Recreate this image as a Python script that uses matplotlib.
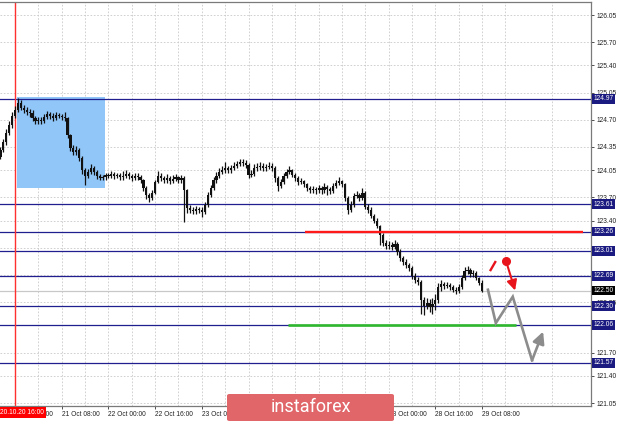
import matplotlib
matplotlib.use("Agg")
import matplotlib.pyplot as plt
from matplotlib.patches import Rectangle, FancyBboxPatch
import numpy as np

# ---------------- data (H1 candles, bar index 0 = 20.10.20 16:00) ----------------
first_bar = -5
first_open = 124.22
closes = [
    124.31, 124.41, 124.53, 124.63, 124.75,
    124.83, 124.92, 124.85, 124.83, 124.80, 124.79, 124.72, 124.68, 124.70, 124.68,
    124.74, 124.77, 124.75, 124.72, 124.76, 124.75, 124.74, 124.72, 124.50, 124.34,
    124.28, 124.31, 124.21, 124.05, 123.98, 124.03, 124.08, 124.03, 123.98, 123.95,
    123.96, 123.99, 123.98, 124.00, 123.98, 123.99, 123.96, 123.98, 124.00, 123.98,
    123.95, 123.98, 123.96, 123.92, 123.82, 123.73, 123.69, 123.76, 123.90, 123.98,
    123.95, 123.92, 123.95, 123.91, 123.94, 123.96, 123.92, 123.95, 123.79, 123.56,
    123.54, 123.52, 123.55, 123.54, 123.51, 123.60, 123.73, 123.82, 123.92, 123.98,
    124.03, 124.05, 124.08, 124.05, 124.08, 124.10, 124.13, 124.16, 124.14, 124.12,
    123.99, 124.00, 124.08, 124.09, 124.10, 124.08, 124.09, 124.10, 124.08, 123.95,
    123.85, 123.90, 123.98, 124.03, 124.05, 123.99, 123.95, 123.90, 123.91, 123.87,
    123.82, 123.79, 123.81, 123.79, 123.82, 123.79, 123.83, 123.81, 123.78, 123.85,
    123.89, 123.91, 123.87, 123.69, 123.54, 123.60, 123.72, 123.73, 123.69, 123.76,
    123.58, 123.54, 123.46, 123.40, 123.33, 123.22, 123.11, 123.07, 123.09, 123.06,
    123.10, 123.00, 122.92, 122.87, 122.83, 122.79, 122.69, 122.64, 122.61, 122.38,
    122.30, 122.34, 122.29, 122.33, 122.38, 122.54, 122.58, 122.56, 122.57, 122.54,
    122.51, 122.49, 122.54, 122.66, 122.75, 122.76, 122.71, 122.73, 122.66, 122.60,
    122.50,
]
highs = [
    124.35, 124.45, 124.58, 124.68, 124.80,
    124.88, 124.98, 124.95, 124.89, 124.86, 124.84, 124.82, 124.75, 124.74, 124.73,
    124.78, 124.81, 124.80, 124.79, 124.80, 124.79, 124.78, 124.80, 124.74, 124.52,
    124.38, 124.36, 124.34, 124.23, 124.08, 124.07, 124.13, 124.10, 124.05, 124.00,
    123.99, 124.02, 124.01, 124.04, 124.03, 124.02, 124.01, 124.04, 124.05, 124.03,
    124.00, 124.02, 124.01, 123.99, 123.94, 123.85, 123.76, 123.80, 123.93, 124.04,
    124.01, 123.98, 124.00, 123.98, 123.99, 124.00, 123.98, 123.99, 123.97, 123.81,
    123.60, 123.58, 123.59, 123.58, 123.57, 123.64, 123.77, 123.86, 123.96, 124.03,
    124.08, 124.10, 124.16, 124.11, 124.12, 124.15, 124.17, 124.20, 124.20, 124.18,
    124.14, 124.05, 124.13, 124.14, 124.15, 124.14, 124.13, 124.15, 124.14, 124.10,
    123.98, 123.94, 124.02, 124.07, 124.10, 124.07, 124.01, 123.97, 123.95, 123.93,
    123.89, 123.85, 123.85, 123.84, 123.86, 123.85, 123.88, 123.86, 123.84, 123.89,
    123.93, 123.96, 123.93, 123.89, 123.72, 123.65, 123.76, 123.78, 123.76, 123.82,
    123.78, 123.61, 123.57, 123.49, 123.43, 123.35, 123.24, 123.15, 123.14, 123.13,
    123.15, 123.12, 123.03, 122.95, 122.90, 122.86, 122.81, 122.72, 122.67, 122.63,
    122.42, 122.40, 122.39, 122.40, 122.45, 122.60, 122.63, 122.61, 122.61, 122.60,
    122.57, 122.55, 122.59, 122.70, 122.80, 122.81, 122.79, 122.77, 122.75, 122.68,
    122.63,
]
lows = [
    124.19, 124.28, 124.38, 124.50, 124.60,
    124.72, 124.80, 124.82, 124.79, 124.76, 124.74, 124.69, 124.65, 124.65, 124.65,
    124.66, 124.71, 124.71, 124.69, 124.70, 124.72, 124.70, 124.68, 124.46, 124.30,
    124.24, 124.25, 124.17, 124.00, 123.86, 123.95, 124.00, 123.99, 123.94, 123.92,
    123.92, 123.93, 123.95, 123.95, 123.94, 123.95, 123.93, 123.93, 123.95, 123.94,
    123.91, 123.92, 123.92, 123.88, 123.78, 123.68, 123.64, 123.66, 123.74, 123.88,
    123.91, 123.88, 123.89, 123.87, 123.88, 123.91, 123.88, 123.89, 123.38, 123.50,
    123.50, 123.48, 123.49, 123.50, 123.45, 123.48, 123.58, 123.70, 123.80, 123.89,
    123.95, 124.00, 124.02, 124.01, 124.02, 124.05, 124.08, 124.10, 124.10, 124.08,
    123.95, 123.96, 123.97, 124.04, 124.05, 124.04, 124.04, 124.06, 124.04, 123.90,
    123.78, 123.82, 123.87, 123.95, 124.00, 123.96, 123.91, 123.86, 123.87, 123.83,
    123.78, 123.76, 123.76, 123.75, 123.76, 123.75, 123.76, 123.73, 123.74, 123.76,
    123.82, 123.86, 123.83, 123.65, 123.48, 123.51, 123.57, 123.69, 123.65, 123.66,
    123.55, 123.50, 123.43, 123.37, 123.30, 123.08, 123.07, 123.03, 123.04, 123.02,
    123.03, 122.96, 122.88, 122.83, 122.79, 122.75, 122.65, 122.60, 122.57, 122.20,
    122.18, 122.26, 122.22, 122.20, 122.25, 122.34, 122.50, 122.52, 122.53, 122.51,
    122.48, 122.46, 122.47, 122.52, 122.63, 122.71, 122.68, 122.68, 122.63, 122.57,
    122.48,
]

# x axis labels (every 16 bars)
date_ticks = [0, 16, 32, 48, 64, 80, 96, 112, 128, 144, 160]
date_labels = ["20 Oct 16:00", "21 Oct 08:00", "22 Oct 00:00", "22 Oct 16:00",
               "23 Oct 08:00", "26 Oct 00:00", "26 Oct 16:00", "27 Oct 08:00",
               "28 Oct 00:00", "28 Oct 16:00", "29 Oct 08:00"]
cursor_label = "20.10.20 16:00"

# price scale labels (those fully covered by level boxes are left blank)
price_ticks = [126.05, 125.70, 125.40, 125.05, 124.70, 124.35, 124.05, 123.70,
               123.40, 123.05, 122.70, 122.35, 122.05, 121.70, 121.40, 121.05]
price_tick_labels = ["126.05", "125.70", "125.40", "125.05", "124.70", "124.35",
                     "124.05", "123.70", "123.40", "", "", "122.35",
                     "", "121.70", "121.40", "121.05"]

# horizontal levels
levels = [124.97, 123.61, 123.26, 123.01, 122.69, 122.30, 122.06, 121.57]
current_price = 122.50

# drawings
box_x = [0.7, 30.8]
box_y = [123.82, 124.99]
red_level = 123.26
red_seg = [99.3, 194.5]
green_level = 122.06
green_seg = [93.5, 171.6]
gray_path_x = [162.0, 164.7, 170.5, 177.1]
gray_path_y = [122.51, 122.08, 122.42, 121.60]
gray_arrow_end = (180.9, 121.97)
red_tick_x = [162.7, 164.7]
red_tick_y = [122.75, 122.88]
red_dot = (168.2, 122.88)
red_arrow_end = (171.3, 122.50)

# ---------------- figure ----------------
W, H = 620, 423
fig = plt.figure(figsize=(W / 100, H / 100), dpi=100)
fig.patch.set_facecolor("white")
ax = fig.add_axes([0, (H - 405.5) / H, 591 / W, 403.5 / H])
ax.set_xlim(-5.14, 197.3)
ax.set_ylim(121.018, 126.218)

tick_font = dict(family="Liberation Sans", size=4.8)

# grid / ticks
ax.set_yticks(price_ticks)
ax.set_yticklabels(price_tick_labels, fontdict=tick_font)
ax.yaxis.tick_right()
ax.set_xticks(date_ticks)
ax.set_xticklabels(date_labels, fontdict=tick_font, ha="left")
ax.set_xticks(np.arange(8, 200, 16), minor=True)
ax.tick_params(axis="y", direction="out", length=2.5, width=0.6, pad=1.5,
               colors="#333333", labelcolor="#222222")
ax.tick_params(axis="x", which="major", direction="out", length=2.5, width=0.6,
               pad=1.5, colors="#333333", labelcolor="#222222")
ax.tick_params(axis="x", which="minor", length=0)
ax.grid(True, which="both", color="#c9c9c9", linestyle=(0, (2, 2)), linewidth=0.6)
ax.set_axisbelow(True)

ax.spines["left"].set_visible(False)
for side in ["top", "right", "bottom"]:
    ax.spines[side].set_color("#7a7a7a")
    ax.spines[side].set_linewidth(0.9)

# blue rectangle
ax.add_patch(Rectangle((box_x[0], box_y[0]), box_x[1] - box_x[0], box_y[1] - box_y[0],
                       facecolor="#90c6f8", edgecolor="none", zorder=1))

# levels
navy = "#1f1f8f"
for lv in levels:
    ax.axhline(lv, color=navy, linewidth=0.9, zorder=2)
ax.axhline(current_price, color="#c8c8c8", linewidth=0.9, zorder=2)

# red vertical cursor line
ax.axvline(0, color="#ff3030", linewidth=1.0, zorder=2)

# candles
n = len(closes)
xs = np.arange(first_bar, first_bar + n)
opens = [first_open] + closes[:-1]
ax.vlines(xs, lows, highs, color="#111111", linewidth=0.9, zorder=3)
body_h = np.array(closes) - np.array(opens)
ax.bar(xs, body_h, bottom=opens, width=0.75, color="#111111", edgecolor="none", zorder=3)

# red & green thick lines
ax.plot(red_seg, [red_level, red_level], color="#ff1a1a", linewidth=1.7, zorder=4,
        solid_capstyle="butt")
ax.plot(green_seg, [green_level, green_level], color="#2eb82e", linewidth=1.9, zorder=4,
        solid_capstyle="butt")

# gray forecast path
ax.plot(gray_path_x, gray_path_y, color="#8c8c8c", linewidth=1.9, zorder=5,
        solid_joinstyle="miter")
ax.annotate("", xy=gray_arrow_end, xytext=(gray_path_x[-1], gray_path_y[-1]),
            arrowprops=dict(arrowstyle="-|>,head_length=0.7,head_width=0.35",
                            color="#8c8c8c", lw=1.9, shrinkA=0, shrinkB=0), zorder=5)

# red forecast mark
ax.plot(red_tick_x, red_tick_y, color="#e8141c", linewidth=1.7, zorder=6,
        solid_capstyle="butt")
ax.plot([red_dot[0]], [red_dot[1]], "o", color="#e8141c", markersize=5.5, zorder=6)
ax.annotate("", xy=red_arrow_end, xytext=red_dot,
            arrowprops=dict(arrowstyle="-|>,head_length=0.6,head_width=0.3",
                            color="#e8141c", lw=1.5, shrinkA=0, shrinkB=0), zorder=6)

# price boxes on the scale
def price_box(val, fc):
    ax.annotate(f"{val:.2f}", xy=(1.0, val), xycoords=("axes fraction", "data"),
                xytext=(1.5, 0), textcoords="offset points", ha="left", va="center",
                color="white", fontsize=4.8, family="Liberation Sans",
                bbox=dict(boxstyle="square,pad=0.22", fc=fc, ec="none"),
                annotation_clip=False, zorder=10)

for lv in levels:
    price_box(lv, "#1a1a80")
price_box(current_price, "#000000")

# cursor date label
ax.annotate(cursor_label, xy=(0, 0), xycoords="axes fraction", xytext=(0.3, -2.2),
            textcoords="offset points", ha="left", va="top", color="white",
            fontsize=4.8, family="Liberation Sans",
            bbox=dict(boxstyle="square,pad=0.3", fc="#ff0000", ec="none"),
            annotation_clip=False, zorder=10)

# watermark
wm = FancyBboxPatch((227 / W, (H - 421) / H), 167 / W, 27 / H,
                    boxstyle="round,pad=0,rounding_size=0.004",
                    transform=fig.transFigure, facecolor="#e0666a", edgecolor="none",
                    zorder=20)
fig.patches.append(wm)
fig.text(310.5 / W, (H - 407) / H, "instaforex", ha="center", va="center",
         color="white", fontsize=13, family="Roboto", zorder=21)

fig.savefig("out.png", dpi=100, facecolor="white")
